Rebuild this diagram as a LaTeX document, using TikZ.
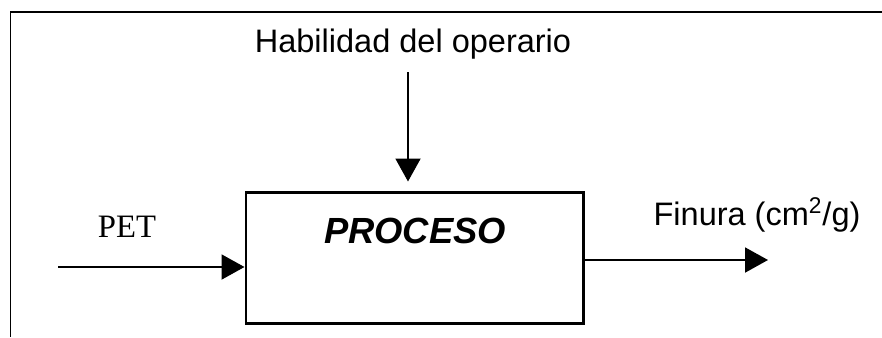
\documentclass[tikz,border=0pt]{standalone}
\usepackage{fontspec}
\setmainfont{Liberation Sans}
\newfontfamily\serifpet{Liberation Serif}
\usetikzlibrary{arrows.meta,positioning}
\tikzset{
  lbl/.style={anchor=base,inner sep=0pt,font=\fontsize{18.5}{22}\selectfont},
  procbox/.style={draw,line width=1.7pt,minimum width=6.74cm,minimum height=2.62cm,inner sep=0pt},
  flow/.style={->,line width=1.1pt,>={Triangle[length=0.46cm,width=0.5cm]}}
}

\begin{document}
\begin{tikzpicture}
\useasboundingbox (0,0) rectangle (17.64,6.74);
\draw[line width=0.7pt] (17.64,6.5) -- (0.21,6.5) -- (0.21,0);
\node[procbox] (B) at (8.29,1.59) {};
\node[anchor=base,inner sep=0pt,font=\fontsize{20.7}{24}\selectfont\bfseries\itshape] (N) at (8.30,1.88) {PROCESO};
\node[lbl] (H) at (8.26,5.70) {Habilidad del operario};
\node[lbl,font=\fontsize{18.6}{22}\selectfont\serifpet] (P) at (2.54,2.00) {PET};
\node[lbl] (F) at (15.14,2.24) {Finura (cm\textsuperscript{2}/g)};
\coordinate (Pin) at (1.16,1.40);
\coordinate (Top) at (8.16,5.30);
\coordinate (Fout) at (15.36,1.54);
\draw[flow,shorten >=0.18cm] (Top) -- (B.north -| Top);
\draw[flow] (Pin) -- (B.west |- Pin);
\draw[flow] (B.east |- Fout) -- (Fout);
\end{tikzpicture}
\end{document}
